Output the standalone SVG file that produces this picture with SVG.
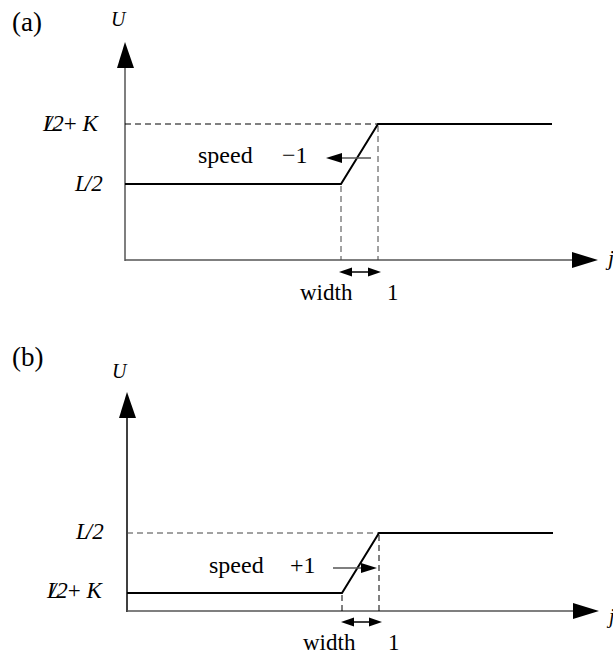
<svg xmlns="http://www.w3.org/2000/svg" width="613" height="655" viewBox="0 0 613 655">
<style>
text{font-family:"Liberation Serif","Times New Roman",serif;fill:#000}
.it{font-style:italic}
.ax{stroke:#555;stroke-width:1.5;fill:none}
.fn{stroke:#000;stroke-width:2;fill:none}
.dh{stroke:#000;stroke-width:1;stroke-dasharray:6,4;fill:none}
.dv{stroke:#444;stroke-width:1;stroke-dasharray:6,4;fill:none}
.sp{stroke:#555;stroke-width:1.5;fill:none}
.hd{fill:#000;stroke:none}
</style>
<rect width="613" height="655" fill="#fff"/>
<g id="panel-a" font-family="Liberation Serif, Times New Roman, serif">
  <text x="12" y="31" font-size="27">(a)</text>
  <text x="111" y="26" font-size="20" class="it">U</text>
  <text x="43" y="131" font-size="23" class="it">L<tspan dx="-10">/</tspan>2<tspan font-style="normal">+</tspan> K</text>
  <text x="75" y="191" font-size="23" class="it">L<tspan dx="-3">/</tspan>2</text>
  <text x="608" y="265" font-size="22" class="it">j</text>
  <text x="198" y="163" font-size="24">speed</text>
  <text x="282" y="163" font-size="24">−1</text>
  <text x="300" y="300" font-size="23">width</text>
  <text x="387" y="300" font-size="23">1</text>
</g>
<g id="panel-b" font-family="Liberation Serif, Times New Roman, serif">
  <text x="12" y="366" font-size="27">(b)</text>
  <text x="112" y="378" font-size="20" class="it">U</text>
  <text x="76" y="539" font-size="23" class="it">L<tspan dx="-3">/</tspan>2</text>
  <text x="47" y="598" font-size="23" class="it">L<tspan dx="-10">/</tspan>2<tspan font-style="normal">+</tspan> K</text>
  <text x="609" y="623" font-size="20" class="it">j</text>
  <text x="209" y="573" font-size="24">speed</text>
  <text x="290" y="573" font-size="24">+1</text>
  <text x="303" y="650" font-size="23">width</text>
  <text x="388" y="650" font-size="23">1</text>
</g>
<g id="connectors">
  <!-- panel a -->
  <line class="ax" x1="125" y1="261" x2="125" y2="66"/>
  <polygon class="hd" points="125,42 117,68 134,68"/>
  <line class="ax" x1="125" y1="260" x2="574" y2="260"/>
  <polygon class="hd" points="598,260 572,252 572,268"/>
  <line class="dh" x1="125" y1="124" x2="378" y2="124"/>
  <line class="dv" x1="341" y1="186" x2="341" y2="260"/>
  <line class="dv" x1="378" y1="126" x2="378" y2="260"/>
  <polyline class="fn" points="125,184 341,184 378,124 552,124"/>
  <line class="sp" x1="371" y1="158" x2="340" y2="158"/>
  <polygon class="hd" points="326,158 342,153 342,163"/>
  <line stroke="#000" stroke-width="1.5" x1="348" y1="272" x2="372" y2="272"/>
  <polygon class="hd" points="339,272 352,267.5 352,276.5"/>
  <polygon class="hd" points="381,272 368,267.5 368,276.5"/>
  <!-- panel b -->
  <line stroke="#000" stroke-width="1.5" x1="127" y1="612" x2="127" y2="415"/>
  <polygon class="hd" points="127,392 119,418 136,418"/>
  <line class="ax" x1="127" y1="611" x2="575" y2="611"/>
  <polygon class="hd" points="599,611 573,603 573,619"/>
  <line class="dv" x1="127" y1="533" x2="379" y2="533"/>
  <line class="dh" x1="342" y1="595" x2="342" y2="611"/>
  <line class="dh" x1="379" y1="535" x2="379" y2="611"/>
  <polyline class="fn" points="127,593 342,593 379,533 553,533"/>
  <line class="sp" x1="333" y1="568" x2="364" y2="568"/>
  <polygon class="hd" points="377,568 361,563 361,573"/>
  <line stroke="#000" stroke-width="1.5" x1="350" y1="622" x2="373" y2="622"/>
  <polygon class="hd" points="341,622 354,617.5 354,626.5"/>
  <polygon class="hd" points="382,622 369,617.5 369,626.5"/>
</g>
</svg>
